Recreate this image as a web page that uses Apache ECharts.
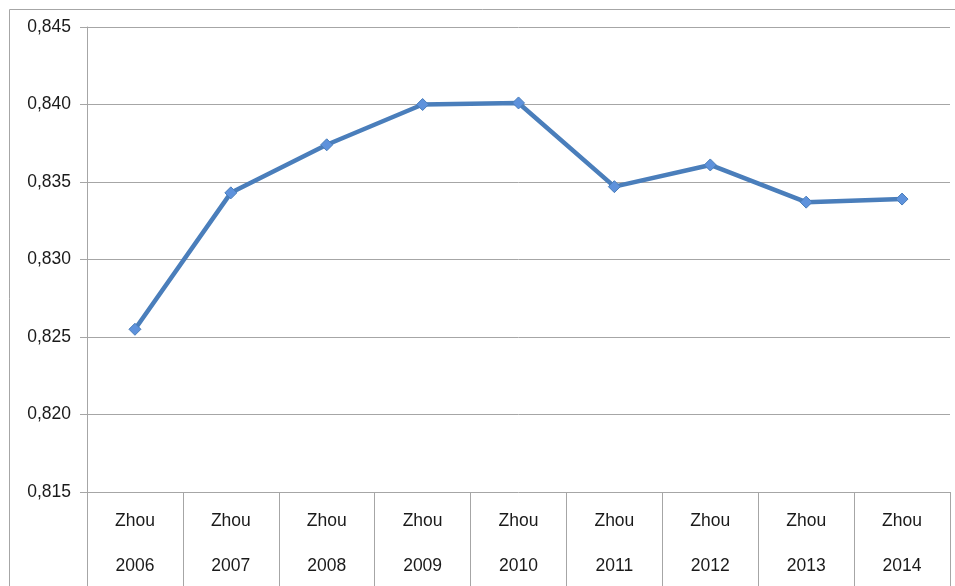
<!DOCTYPE html>
<html>
<head>
<meta charset="utf-8">
<script src="https://cdn.jsdelivr.net/npm/echarts@6/dist/echarts.min.js"></script>
<style>
  html, body { margin: 0; padding: 0; background: #fff; }
  #chart { width: 955px; height: 586px; }
</style>
</head>
<body>
<div id="chart"></div>
<script>
// categories and values
const categories = ['Zhou\n2006', 'Zhou\n2007', 'Zhou\n2008', 'Zhou\n2009', 'Zhou\n2010',
  'Zhou\n2011', 'Zhou\n2012', 'Zhou\n2013', 'Zhou\n2014']
const values = [0.8255, 0.8343, 0.8374, 0.8400, 0.8401, 0.8347, 0.8361, 0.8337, 0.8339]

const chart = echarts.init(document.getElementById('chart'))

chart.setOption({
  animation: false,
  backgroundColor: '#fff',
  textStyle: { fontFamily: 'Liberation Sans, Arial, sans-serif' },
  // outer chart frame, its right and bottom edges fall outside the picture
  graphic: [{
    type: 'rect',
    shape: { x: 9.5, y: 9.5, width: 960, height: 600 },
    style: { fill: 'none', stroke: '#a6a6a6', lineWidth: 1 },
    silent: true
  }],
  grid: { left: 87, right: 5, top: 27, bottom: 94, outerBoundsMode: 'none' },
  xAxis: {
    type: 'category',
    data: categories,
    boundaryGap: true,
    axisLine: { show: false },
    axisTick: {
      show: true,
      interval: 0,
      length: 100,
      lineStyle: { color: '#a6a6a6', width: 1 }
    },
    axisLabel: {
      interval: 0,
      margin: 7,
      fontSize: 17.5,
      color: '#1a1a1a',
      lineHeight: 45
    }
  },
  yAxis: {
    type: 'value',
    min: 0.815,
    max: 0.845,
    interval: 0.005,
    axisLine: { show: true, lineStyle: { color: '#a6a6a6', width: 1 } },
    axisTick: { show: true, length: 7, lineStyle: { color: '#a6a6a6' } },
    axisLabel: {
      margin: 16,
      fontSize: 17.5,
      color: '#1a1a1a',
      formatter: v => v.toFixed(3).replace('.', ',')
    },
    splitLine: { show: true, lineStyle: { color: '#a6a6a6', width: 1 } }
  },
  series: [{
    type: 'line',
    data: values,
    symbol: 'diamond',
    symbolSize: 12,
    lineStyle: { color: '#4a7ebb', width: 4.5 },
    itemStyle: { color: '#5e92dc', borderColor: '#4a7ebb', borderWidth: 1 }
  }]
})
</script>
</body>
</html>
